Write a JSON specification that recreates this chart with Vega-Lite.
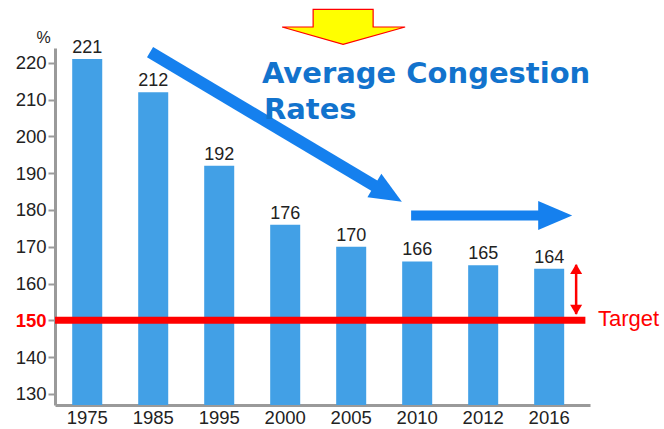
{
  "$schema": "https://vega.github.io/schema/vega-lite/v6.json",
  "width": 535,
  "height": 357,
  "autosize": "none",
  "padding": {"left": 55, "top": 48, "right": 74, "bottom": 24},
  "background": "white",
  "config": {"view": {"stroke": null}, "font": "Liberation Sans"},
  "datasets": {
    "bars": [
      {"year": "1975", "rate": 221},
      {"year": "1985", "rate": 212},
      {"year": "1995", "rate": 192},
      {"year": "2000", "rate": 176},
      {"year": "2005", "rate": 170},
      {"year": "2010", "rate": 166},
      {"year": "2012", "rate": 165},
      {"year": "2016", "rate": 164}
    ]
  },
  "encoding": {
    "y": {
      "field": "rate", "type": "quantitative",
      "scale": {"domain": [127, 224], "nice": false, "zero": false},
      "axis": {
        "values": [130, 140, 150, 160, 170, 180, 190, 200, 210, 220],
        "labelOverlap": false,
        "title": "%", "titleAngle": 0, "titleX": -12, "titleY": -11, "titleAlign": "center", "titleBaseline": "middle",
        "titleFontSize": 16, "titleFontWeight": "normal", "titleColor": "#222222", "titleFont": "Liberation Sans",
        "domainColor": "#9a9a9a", "domainWidth": 3, "tickColor": "#9a9a9a", "tickWidth": 2, "tickSize": 7,
        "labelFontSize": 18.5, "labelFont": "Liberation Sans", "labelPadding": 2, "grid": false,
        "labelColor": {"condition": {"test": "datum.value === 150", "value": "#ff0000"}, "value": "#222222"},
        "labelFontWeight": {"condition": {"test": "datum.value === 150", "value": "bold"}, "value": "normal"}
      }
    }
  },
  "layer": [
    {
      "data": {"name": "bars"},
      "encoding": {
        "x": {
          "field": "year", "type": "nominal", "sort": null,
          "scale": {"paddingInner": 0.545, "paddingOuter": 0.326, "align": 0.4},
          "axis": {"title": null, "labelAngle": 0, "ticks": false, "domainColor": "#9a9a9a", "domainWidth": 3, "labelFontSize": 18.5, "labelColor": "#222222", "labelPadding": 3, "grid": false, "labelFont": "Liberation Sans"}
        }
      },
      "layer": [
        {"mark": {"type": "bar", "color": "#42a0e6"}, "encoding": {"y2": {"datum": 127}}},
        {"mark": {"type": "text", "dy": -6, "baseline": "alphabetic", "fontSize": 18, "color": "#222222"}, "encoding": {"text": {"field": "rate", "type": "quantitative"}}}
      ]
    },
    {
      "data": {"values": [{"pos": -0.485, "pos2": 7.55, "rate": 150}]},
      "mark": {"type": "rule", "color": "#ff0000", "strokeWidth": 7},
      "encoding": {
        "x": {"field": "pos", "type": "quantitative", "scale": {"domain": [-0.485, 7.62], "nice": false, "zero": false}, "axis": null},
        "x2": {"field": "pos2"}
      }
    },
    {
      "data": {"values": [{"pos": 7.74, "rate": 150, "label": "Target"}]},
      "mark": {"type": "text", "align": "left", "baseline": "middle", "dy": -1, "fontSize": 22, "color": "#ff0000"},
      "encoding": {
        "x": {"field": "pos", "type": "quantitative", "scale": {"domain": [-0.485, 7.62], "nice": false, "zero": false}, "axis": null},
        "text": {"field": "label"}
      }
    },
    {
      "data": {"values": [{"pos": 7.41, "rate": 151.7, "rate2": 165.1}]},
      "mark": {"type": "rule", "color": "#ff0000", "strokeWidth": 2.5},
      "encoding": {
        "x": {"field": "pos", "type": "quantitative", "scale": {"domain": [-0.485, 7.62], "nice": false, "zero": false}, "axis": null},
        "y2": {"field": "rate2"}
      }
    },
    {
      "data": {"values": [{"pos": 7.41, "rate": 165.3}]},
      "mark": {"type": "point", "filled": true, "shape": "M0,0L-2,-1.2L-2,1.2Z", "size": 100, "angle": -90, "color": "#ff0000", "opacity": 1, "strokeWidth": 0},
      "encoding": {
        "x": {"field": "pos", "type": "quantitative", "scale": {"domain": [-0.485, 7.62], "nice": false, "zero": false}, "axis": null}
      }
    },
    {
      "data": {"values": [{"pos": 7.41, "rate": 151.5}]},
      "mark": {"type": "point", "filled": true, "shape": "M0,0L-2,-1.2L-2,1.2Z", "size": 100, "angle": 90, "color": "#ff0000", "opacity": 1, "strokeWidth": 0},
      "encoding": {
        "x": {"field": "pos", "type": "quantitative", "scale": {"domain": [-0.485, 7.62], "nice": false, "zero": false}, "axis": null}
      }
    },
    {
      "data": {"values": [{"pos": 0.955, "rate": 222.9}, {"pos": 4.39, "rate": 186.2}]},
      "mark": {"type": "line", "color": "#1580ee", "strokeWidth": 12, "strokeCap": "butt"},
      "encoding": {
        "x": {"field": "pos", "type": "quantitative", "scale": {"domain": [-0.485, 7.62], "nice": false, "zero": false}, "axis": null}
      }
    },
    {
      "data": {"values": [{"pos": 4.77, "rate": 182.2}]},
      "mark": {"type": "point", "filled": true, "shape": "M0,0L-2,-0.85L-2,0.85Z", "size": 1024, "angle": 30.8, "color": "#1580ee", "opacity": 1, "strokeWidth": 0},
      "encoding": {
        "x": {"field": "pos", "type": "quantitative", "scale": {"domain": [-0.485, 7.62], "nice": false, "zero": false}, "axis": null}
      }
    },
    {
      "data": {"values": [{"pos": 4.91, "rate": 178.5}, {"pos": 6.87, "rate": 178.5}]},
      "mark": {"type": "line", "color": "#1580ee", "strokeWidth": 10, "strokeCap": "butt"},
      "encoding": {
        "x": {"field": "pos", "type": "quantitative", "scale": {"domain": [-0.485, 7.62], "nice": false, "zero": false}, "axis": null}
      }
    },
    {
      "data": {"values": [{"pos": 7.35, "rate": 178.5}]},
      "mark": {"type": "point", "filled": true, "shape": "M0,0L-2,-0.85L-2,0.85Z", "size": 1156, "angle": 0, "color": "#1580ee", "opacity": 1, "strokeWidth": 0},
      "encoding": {
        "x": {"field": "pos", "type": "quantitative", "scale": {"domain": [-0.485, 7.62], "nice": false, "zero": false}, "axis": null}
      }
    },
    {
      "data": {"values": [{"pos": 3.88, "rate": 229.7}]},
      "mark": {"type": "point", "filled": true, "shape": "M-1.5,-0.885L1.5,-0.885L1.5,0L3.1,0L0,0.87L-3.05,0L-1.5,0Z", "size": 1600, "fill": "#ffff00", "stroke": "#ff0000", "strokeWidth": 1.2, "opacity": 1},
      "encoding": {
        "x": {"field": "pos", "type": "quantitative", "scale": {"domain": [-0.485, 7.62], "nice": false, "zero": false}, "axis": null}
      }
    },
    {
      "data": {"values": [
        {"pos": 2.65, "rate": 214.6, "label": "Average Congestion"},
        {"pos": 2.68, "rate": 204.7, "label": "Rates"}
      ]},
      "mark": {"type": "text", "align": "left", "baseline": "alphabetic", "fontSize": 29, "fontWeight": "bold", "font": "DejaVu Sans", "color": "#1273cd"},
      "encoding": {
        "x": {"field": "pos", "type": "quantitative", "scale": {"domain": [-0.485, 7.62], "nice": false, "zero": false}, "axis": null},
        "text": {"field": "label"}
      }
    }
  ],
  "resolve": {"scale": {"x": "independent"}}
}
